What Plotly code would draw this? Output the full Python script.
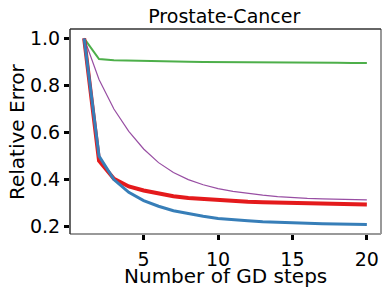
import plotly.graph_objects as go

steps = list(range(1, 21))
green = [1.0, 0.912, 0.907, 0.905, 0.903, 0.902, 0.901, 0.900, 0.899, 0.899,
         0.898, 0.898, 0.897, 0.897, 0.897, 0.896, 0.896, 0.896, 0.895, 0.895]
purple = [1.0, 0.825, 0.70, 0.605, 0.53, 0.472, 0.43, 0.40, 0.378, 0.362,
          0.350, 0.341, 0.334, 0.328, 0.323, 0.320, 0.318, 0.316, 0.315, 0.314]
red = [1.0, 0.48, 0.404, 0.371, 0.354, 0.340, 0.329, 0.322, 0.317, 0.312,
       0.309, 0.306, 0.304, 0.302, 0.300, 0.299, 0.297, 0.296, 0.295, 0.294]
blue = [1.0, 0.50, 0.40, 0.346, 0.311, 0.287, 0.268, 0.255, 0.244, 0.235,
        0.229, 0.225, 0.221, 0.218, 0.216, 0.214, 0.212, 0.211, 0.210, 0.209]

fig = go.Figure()
fig.add_trace(go.Scatter(x=steps, y=green, mode="lines", line=dict(color="#4daf4a", width=2)))
fig.add_trace(go.Scatter(x=steps, y=purple, mode="lines", line=dict(color="#984ea3", width=1.2)))
fig.add_trace(go.Scatter(x=steps, y=red, mode="lines", line=dict(color="#e41a1c", width=4)))
fig.add_trace(go.Scatter(x=steps, y=blue, mode="lines", line=dict(color="#377eb8", width=3)))

font = "DejaVu Sans"
fig.update_layout(
    width=390, height=293,
    margin=dict(l=70, r=9, t=29, b=59, autoexpand=False),
    paper_bgcolor="white", plot_bgcolor="white",
    showlegend=False,
    font=dict(family=font, color="black", size=19),
    title=dict(text="Prostate-Cancer", x=0.575, xanchor="center", y=0.945, yanchor="middle",
               font=dict(family=font, size=19, color="black")),
)
fig.update_xaxes(range=[0.05, 20.95], tickvals=[5, 10, 15, 20], showgrid=False, zeroline=False,
                 automargin=False, ticklabelstandoff=3,
                 ticks="outside", ticklen=5, tickwidth=2.5, tickcolor="black",
                 tickfont=dict(size=19))
fig.update_yaxes(range=[0.169, 1.0396], tickvals=[0.2, 0.4, 0.6, 0.8, 1.0], ticktext=["0.2", "0.4", "0.6", "0.8", "1.0"],
                 showgrid=False, zeroline=False, automargin=False,
                 ticks="outside", ticklen=5, tickwidth=2.5, tickcolor="black",
                 tickfont=dict(size=19))
fig.add_annotation(text="Number of GD steps", xref="paper", yref="paper", x=0.5, y=-0.205,
                   xanchor="center", yanchor="middle", showarrow=False, font=dict(size=20))
fig.add_annotation(text="Relative Error", xref="paper", yref="paper", x=-0.172, y=0.5,
                   xanchor="center", yanchor="middle", textangle=-90, showarrow=False, font=dict(size=20))
# frame
fig.add_shape(type="line", xref="paper", yref="paper", x0=0, x1=1, y0=0, y1=0, line=dict(color="#999999", width=2), layer="above")
fig.add_shape(type="line", xref="paper", yref="paper", x0=1, x1=1, y0=0, y1=1, line=dict(color="#999999", width=2), layer="above")
fig.add_shape(type="line", xref="paper", yref="paper", x0=0, x1=1, y0=1, y1=1, line=dict(color="#333333", width=1.5), layer="above")
fig.add_shape(type="line", xref="paper", yref="paper", x0=0, x1=0, y0=0, y1=1, line=dict(color="#333333", width=1.5), layer="above")

fig.write_html("out.html", config={"displayModeBar": False},
               post_script="document.body.style.margin='0px';document.body.style.overflow='hidden';")
